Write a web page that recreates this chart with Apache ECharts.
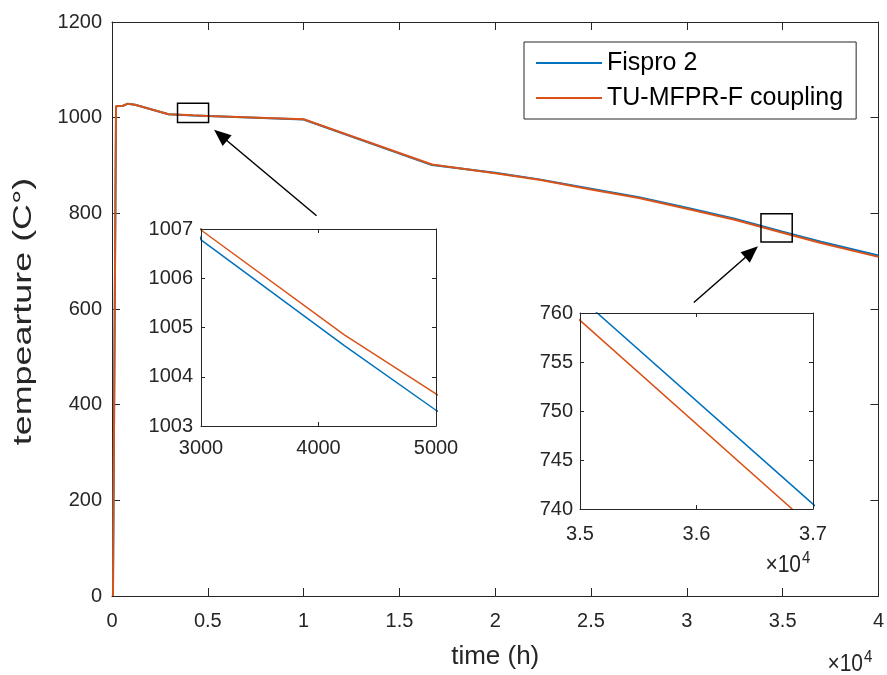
<!DOCTYPE html>
<html>
<head>
<meta charset="utf-8">
<script src="https://cdn.jsdelivr.net/npm/echarts@6/dist/echarts.min.js"></script>
<style>html,body{margin:0;padding:0;background:#fff}#c{width:887px;height:675px}</style>
</head>
<body>
<div id="c"></div>
<script>
// ---- data (time in seconds, temperature in °C) ----
const timeSec = [50, 210, 570, 800, 1200, 2950, 3000, 4220, 5000, 10000, 16700, 20000, 22300, 25000, 27500, 30000, 32500, 35000, 37000, 40000];
const fispro2 = [0, 1024, 1025, 1029, 1027, 1007.1, 1006.78, 1004.63, 1003.32, 996.3, 900.8, 885, 871, 851.5, 833.5, 811.5, 788.5, 761.56, 740.5, 712];
const tuMfprF = [0, 1024, 1025, 1029, 1027, 1007.3, 1006.98, 1004.85, 1003.65, 996.8, 902, 884, 870, 850, 832, 809.5, 786.5, 759.25, 738.1, 709];
const seriesNames = ['Fispro 2', 'TU-MFPR-F coupling'];

// ---- axis ticks and tick labels ----
const mainXTicks = [0, 5000, 10000, 15000, 20000, 25000, 30000, 35000, 40000];
const mainXLabels = ['0', '0.5', '1', '1.5', '2', '2.5', '3', '3.5', '4'];
const mainYTicks = [0, 200, 400, 600, 800, 1000, 1200];
const mainYLabels = ['0', '200', '400', '600', '800', '1000', '1200'];
const in1XTicks = [3000, 4000, 5000];
const in1XLabels = ['3000', '4000', '5000'];
const in1YTicks = [1003, 1004, 1005, 1006, 1007];
const in1YLabels = ['1003', '1004', '1005', '1006', '1007'];
const in2XTicks = [35000, 36000, 37000];
const in2XLabels = ['3.5', '3.6', '3.7'];
const in2YTicks = [740, 745, 750, 755, 760];
const in2YLabels = ['740', '745', '750', '755', '760'];
const axisTitles = ['time (h)', 'tempearture (C°)'];
const exponentText = ['×10', '4'];

// annotation boxes and arrows, in main-axis data coordinates
const zoomBoxes = [[3420, 1030, 5040, 990], [33870, 799, 35500, 740]];
const arrows = [[10677, 795, 5328, 974.6], [30365, 613.6, 33714, 731]];

// ---- styling ----
const AX = '#262626';
const COLORS = ['#0072BD', '#D95319'];
const FAMILY = '"Liberation Sans", Arial, Helvetica, sans-serif';
const TICK_SIZE = 20;

function lookup(ticks, labels) {
  return function (v) {
    for (let i = 0; i < ticks.length; i++) if (Math.abs(ticks[i] - v) < 1e-6) return labels[i];
    return '';
  };
}
function axisBase(gi, ticks, tickLen, z) {
  return {
    gridIndex: gi, type: 'value', min: ticks[0], max: ticks[ticks.length - 1],
    interval: ticks[1] - ticks[0], z: z,
    axisLine: { show: true, onZero: false, lineStyle: { color: AX, width: 1 } },
    axisTick: { show: true, inside: true, length: tickLen, lineStyle: { color: AX, width: 1 } },
    splitLine: { show: false }
  };
}
function labelStyle(ticks, labels, margin) {
  return { show: true, formatter: lookup(ticks, labels), color: AX, fontSize: TICK_SIZE, fontFamily: FAMILY,
    margin: margin, showMinLabel: true, showMaxLabel: true };
}
function xAxes(gi, ticks, labels, tickLen, margin, z, extra) {
  const bottom = Object.assign(axisBase(gi, ticks, tickLen, z), { position: 'bottom', axisLabel: labelStyle(ticks, labels, margin) }, extra || {});
  const top = Object.assign(axisBase(gi, ticks, tickLen, z), { position: 'top', axisLabel: { show: false } });
  return [bottom, top];
}
function yAxes(gi, ticks, labels, tickLen, margin, z, extra) {
  const left = Object.assign(axisBase(gi, ticks, tickLen, z), { position: 'left', axisLabel: labelStyle(ticks, labels, margin) }, extra || {});
  const right = Object.assign(axisBase(gi, ticks, tickLen, z), { position: 'right', axisLabel: { show: false } });
  return [left, right];
}

const grids = [
  { left: 112, top: 22, width: 768, height: 575, show: true, backgroundColor: '#fff', borderWidth: 0, z: 0 },
  { left: 201, top: 229, width: 235, height: 197, show: true, backgroundColor: '#fff', borderWidth: 0, z: 5 },
  { left: 580, top: 313, width: 233, height: 196, show: true, backgroundColor: '#fff', borderWidth: 0, z: 5 }
];

const xAxisList = [].concat(
  xAxes(0, mainXTicks, mainXLabels, 8, 15, 1, {
    name: axisTitles[0], nameLocation: 'middle', nameGap: 48,
    nameTextStyle: { fontSize: 26, fontFamily: FAMILY, color: AX }
  }),
  xAxes(1, in1XTicks, in1XLabels, 4, 12, 7),
  xAxes(2, in2XTicks, in2XLabels, 4, 15, 7)
);
const yAxisList = [].concat(
  yAxes(0, mainYTicks, mainYLabels, 8, 10, 1),
  yAxes(1, in1YTicks, in1YLabels, 4, 8, 7),
  yAxes(2, in2YTicks, in2YLabels, 4, 7, 7)
);

const seriesValues = [fispro2, tuMfprF];
const series = [];
[[0, 2, 2], [2, 1.5, 6], [4, 1.5, 6]].forEach(function (cfg) {
  seriesValues.forEach(function (vals, si) {
    series.push({
      name: seriesNames[si], type: 'line',
      xAxisIndex: cfg[0], yAxisIndex: cfg[0],
      data: timeSec.map(function (t, i) { return [t, vals[i]]; }),
      symbol: 'none', showSymbol: false, clip: true, z: cfg[2] + si * 0.1,
      lineStyle: { color: COLORS[si], width: cfg[1] },
      itemStyle: { color: COLORS[si] },
      emphasis: { disabled: true }
    });
  });
});

const chart = echarts.init(document.getElementById('c'));
chart.setOption({
  animation: false,
  backgroundColor: '#fff',
  grid: grids,
  xAxis: xAxisList,
  yAxis: yAxisList,
  legend: {
    data: seriesNames, orient: 'vertical', left: 524, top: 42,
    padding: [7, 13, 7, 12], itemGap: 7, itemWidth: 66, itemHeight: 2, icon: 'rect',
    backgroundColor: '#fff', borderColor: AX, borderWidth: 1, borderRadius: 0,
    textStyle: { fontSize: 25, fontFamily: FAMILY, color: '#000', lineHeight: 28 },
    z: 10
  },
  series: series
});

// annotations (boxes, arrows, exponent labels, y title)
const graphic = [];
function px(x, y) { return chart.convertToPixel({ xAxisIndex: 0, yAxisIndex: 0 }, [x, y]); }
zoomBoxes.forEach(function (b) {
  const a = px(b[0], b[1]), c = px(b[2], b[3]);
  graphic.push({ type: 'rect', z: 20, shape: { x: a[0], y: a[1], width: c[0] - a[0], height: c[1] - a[1] },
    style: { fill: 'none', stroke: '#000', lineWidth: 1.5 } });
});
arrows.forEach(function (ar) {
  const t = px(ar[0], ar[1]), h = px(ar[2], ar[3]);
  const dx = h[0] - t[0], dy = h[1] - t[1], L = Math.sqrt(dx * dx + dy * dy);
  const ux = dx / L, uy = dy / L, nx = -uy, ny = ux;
  const hl = 17, hw = 7;
  const bx = h[0] - ux * hl, by = h[1] - uy * hl;
  graphic.push({ type: 'line', z: 20, shape: { x1: t[0], y1: t[1], x2: bx + ux * 2, y2: by + uy * 2 },
    style: { stroke: '#000', lineWidth: 1.5 } });
  graphic.push({ type: 'polygon', z: 20, shape: { points: [[h[0], h[1]], [bx + nx * hw, by + ny * hw], [bx - nx * hw, by - ny * hw]] },
    style: { fill: '#000' } });
});
// "×10^4" exponent labels: x = right end of "×10"
function exponent(x, midY) {
  graphic.push({ type: 'text', z: 20, x: x, y: midY, scaleY: 1.15,
    style: { text: exponentText[0], font: '21px ' + FAMILY, fill: AX, align: 'right', verticalAlign: 'middle' } });
  graphic.push({ type: 'text', z: 20, x: x + 1, y: midY - 7, scaleY: 1.15,
    style: { text: exponentText[1], font: '15px ' + FAMILY, fill: AX, align: 'left', verticalAlign: 'middle' } });
}
const g0 = grids[0], g2 = grids[2];
exponent(g0.left + g0.width - 17, 664);
exponent(g2.left + g2.width - 12, 565);
// y-axis title (stretched along its length like the reference rendering)
graphic.push({ type: 'text', z: 20, x: 24, y: (grids[0].top + grids[0].top + grids[0].height) / 2 + 2,
  rotation: Math.PI / 2, scaleX: 1.38,
  style: { text: axisTitles[1], font: '26px ' + FAMILY, fill: AX, align: 'center', verticalAlign: 'middle' } });
chart.setOption({ graphic: graphic });
</script>
</body>
</html>
